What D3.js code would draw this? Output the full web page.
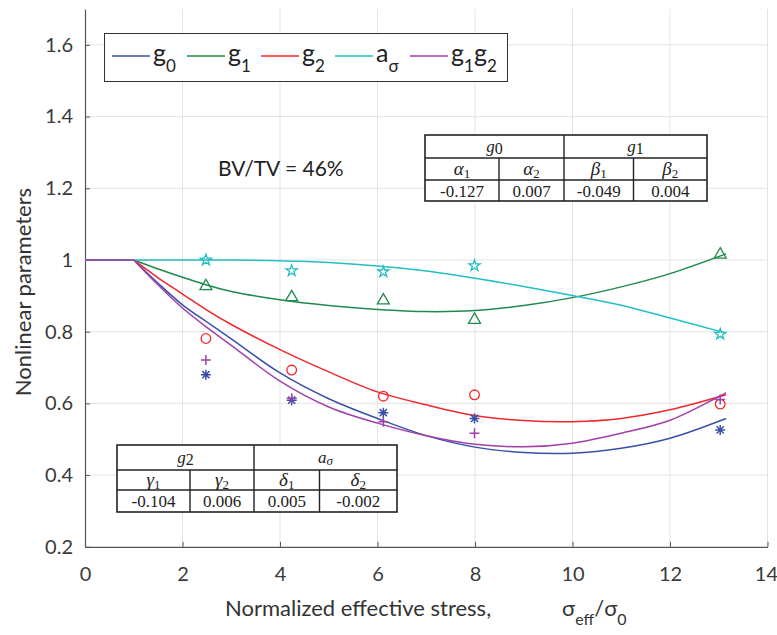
<!DOCTYPE html>
<html><head><meta charset="utf-8">
<script src="https://cdn.jsdelivr.net/npm/d3@7"></script>
<style>body{margin:0;background:#fff;} svg{display:block;}</style>
</head><body><svg id="chart" width="777" height="635"></svg>
<script>
// ---------------- data ----------------
const xTicks = [0, 2, 4, 6, 8, 10, 12, 14];
const yTicks = [0.2, 0.4, 0.6, 0.8, 1.0, 1.2, 1.4, 1.6];

// measured points
const stressPts = [2.48, 4.24, 6.12, 7.99, 13.03];
const g0Pts   = [0.680, 0.609, 0.574, 0.558, 0.526];
const g1Pts   = [0.927, 0.896, 0.887, 0.833, 1.015];
const g2Pts   = [0.781, 0.693, 0.620, 0.624, 0.598];
const aSigPts = [1.000, 0.970, 0.967, 0.984, 0.793];
const g1g2Pts = [0.721, 0.614, 0.549, 0.517, 0.611];

// fitted curves
const fitX    = [0, 1, 1.5, 2, 2.5, 3, 4, 5, 6, 7, 8, 9, 10, 11, 12, 13.15];
const g0Fit   = [1, 1, 0.935, 0.875, 0.827, 0.780, 0.685, 0.613, 0.558, 0.510, 0.478, 0.463, 0.461, 0.475, 0.503, 0.558];
const g1Fit   = [1, 1, 0.975, 0.952, 0.930, 0.912, 0.889, 0.873, 0.862, 0.856, 0.859, 0.873, 0.895, 0.925, 0.962, 1.017];
const g2Fit   = [1, 1, 0.950, 0.905, 0.860, 0.820, 0.750, 0.688, 0.632, 0.596, 0.566, 0.552, 0.549, 0.558, 0.582, 0.624];
const aSigFit = [1, 1, 1.000, 1.000, 1.000, 1.000, 0.998, 0.993, 0.983, 0.969, 0.949, 0.926, 0.901, 0.874, 0.838, 0.796];
const g1g2Fit = [1, 1, 0.930, 0.866, 0.812, 0.762, 0.662, 0.590, 0.545, 0.510, 0.486, 0.479, 0.489, 0.517, 0.553, 0.630];

const legendMain = ["g", "g", "g", "a", "g"];
const legendSub  = ["0", "1", "2", "σ", "1"];
const legendTail = ["", "", "", "", "g"];
const legendTailSub = ["", "", "", "", "2"];

const table1Groups = [["g", "0"], ["g", "1"]];
const table1Params = [["α", "1"], ["α", "2"], ["β", "1"], ["β", "2"]];
const table1Values = ["-0.127", "0.007", "-0.049", "0.004"];
const table2Groups = [["g", "2"], ["a", "σ"]];
const table2Params = [["γ", "1"], ["γ", "2"], ["δ", "1"], ["δ", "2"]];
const table2Values = ["-0.104", "0.006", "0.005", "-0.002"];

const annotation = "BV/TV = 46%";

// ---------------- chart ----------------
const svg = d3.select("#chart");
const FONT = "Lato, 'Open Sans', sans-serif";
const colors = {g0: "#3a50a8", g1: "#1f8a4c", g2: "#f0282c", aSig: "#22bfc3", g1g2: "#a040a8"};

const x = d3.scaleLinear().domain([0, 14]).range([85, 767.5]);
const y = d3.scaleLinear().domain([0.2, 1.7]).range([546.8, 9]);

// grid
const grid = svg.append("g");
grid.selectAll("line.v").data(xTicks.slice(1)).join("line")
  .attr("x1", d => x(d)).attr("x2", d => x(d))
  .attr("y1", y(0.2)).attr("y2", y(1.7))
  .attr("stroke", "#e3e3e3").attr("stroke-width", 1);
grid.selectAll("line.h").data(yTicks.slice(1)).join("line")
  .attr("x1", x(0)).attr("x2", x(14))
  .attr("y1", d => y(d)).attr("y2", d => y(d))
  .attr("stroke", "#e3e3e3").attr("stroke-width", 1);

// axes
const fmt = d => String(+d.toFixed(1));
const xAxis = svg.append("g").attr("transform", `translate(0,${y(0.2)})`)
  .call(d3.axisBottom(x).tickValues(xTicks).tickFormat(fmt).tickSizeInner(-5).tickSizeOuter(0).tickPadding(16));
const yAxis = svg.append("g").attr("transform", `translate(${x(0)},0)`)
  .call(d3.axisLeft(y).tickValues(yTicks).tickFormat(fmt).tickSizeInner(-5).tickSizeOuter(0).tickPadding(12));
[xAxis, yAxis].forEach(a => {
  a.select(".domain").attr("stroke", "#555").attr("stroke-width", 1.2);
  a.selectAll(".tick line").attr("stroke", "#555");
  a.selectAll(".tick text").attr("fill", "#3a3a3a").style("font-family", FONT).style("font-size", "20px");
});
xAxis.selectAll(".tick text").attr("dy", "0.9em")
  .filter(d => d === 14).attr("text-anchor", "end").attr("dx", 10);

// curves: flat segment up to x=1, then smooth fit
const line = d3.line().x(d => x(d[0])).y(d => y(d[1])).curve(d3.curveCatmullRom.alpha(0.5));
const fits = [[g0Fit, colors.g0], [g1Fit, colors.g1], [g2Fit, colors.g2], [aSigFit, colors.aSig], [g1g2Fit, colors.g1g2]];
fits.forEach(([vals, c]) => {
  const p = fitX.map((xv, i) => [xv, vals[i]]);
  svg.append("path").datum(p.slice(0, 2))
    .attr("d", d3.line().x(d => x(d[0])).y(d => y(d[1]))).attr("fill", "none").attr("stroke", c).attr("stroke-width", 1.5);
  svg.append("path").datum(p.slice(1))
    .attr("d", line).attr("fill", "none").attr("stroke", c).attr("stroke-width", 1.5);
});

// markers
const mk = svg.append("g").attr("fill", "none").attr("stroke-width", 1.3);
function pts(vals) { return stressPts.map((xv, i) => [xv, vals[i]]); }
mk.selectAll("path.star").data(pts(aSigPts)).join("path")
  .attr("transform", d => `translate(${x(d[0])},${y(d[1])})`)
  .attr("d", d3.symbol(d3.symbolStar, 38)).attr("stroke", colors.aSig);
mk.selectAll("path.tri").data(pts(g1Pts)).join("path")
  .attr("transform", d => `translate(${x(d[0])},${y(d[1])})`)
  .attr("d", d3.symbol(d3.symbolTriangle, 62)).attr("stroke", colors.g1);
mk.selectAll("circle").data(pts(g2Pts)).join("circle")
  .attr("cx", d => x(d[0])).attr("cy", d => y(d[1])).attr("r", 4.8).attr("stroke", colors.g2);
const ast = "M-5,0H5M0,-5V5M-3.6,-3.6L3.6,3.6M-3.6,3.6L3.6,-3.6";
mk.selectAll("path.ast").data(pts(g0Pts)).join("path")
  .attr("transform", d => `translate(${x(d[0])},${y(d[1])})`)
  .attr("d", ast).attr("stroke", colors.g0).attr("stroke-width", 1.5);
const plus = "M-5,0H5M0,-5V5";
mk.selectAll("path.plus").data(pts(g1g2Pts)).join("path")
  .attr("transform", d => `translate(${x(d[0])},${y(d[1])})`)
  .attr("d", plus).attr("stroke", colors.g1g2).attr("stroke-width", 1.5);

// legend
const lg = svg.append("g");
lg.append("rect").attr("x", 104.5).attr("y", 33.5).attr("width", 403).attr("height", 48)
  .attr("fill", "#fff").attr("stroke", "#333").attr("stroke-width", 1);
const legendStarts = [112, 187, 261, 335, 410];
const legendColors = [colors.g0, colors.g1, colors.g2, colors.aSig, colors.g1g2];
legendStarts.forEach((sx, i) => {
  lg.append("line").attr("x1", sx).attr("x2", sx + 38).attr("y1", 56).attr("y2", 56)
    .attr("stroke", legendColors[i]).attr("stroke-width", 1.5);
  const t = lg.append("text").attr("x", sx + 41).attr("y", 62)
    .style("font-family", FONT).style("font-size", "25px").attr("fill", "#222");
  t.append("tspan").text(legendMain[i]);
  t.append("tspan").attr("dy", 10).style("font-size", "17px").text(legendSub[i]);
  if (legendTail[i]) {
    t.append("tspan").attr("dy", -10).text(legendTail[i]);
    t.append("tspan").attr("dy", 10).style("font-size", "17px").text(legendTailSub[i]);
  }
});

// annotation
svg.append("text").attr("x", 218).attr("y", 176).text(annotation)
  .style("font-family", FONT).style("font-size", "21px").attr("fill", "#222");

// tables
function drawTable(x0, x1, xm, xs1, xs2, y0, yr1, yr2, y1, groups, params, values) {
  const g = svg.append("g");
  g.append("rect").attr("x", x0).attr("y", y0).attr("width", x1 - x0).attr("height", y1 - y0)
    .attr("fill", "#fff").attr("stroke", "#222").attr("stroke-width", 1.6);
  const ln = (a, b, c, d) => g.append("line").attr("x1", a).attr("y1", b).attr("x2", c).attr("y2", d)
    .attr("stroke", "#222").attr("stroke-width", 1.4);
  ln(x0, yr1, x1, yr1); ln(x0, yr2, x1, yr2);
  ln(xm, y0, xm, y1); ln(xs1, yr1, xs1, y1); ln(xs2, yr1, xs2, y1);
  const serif = "'Liberation Serif', 'Times New Roman', serif";
  const gc = [(x0 + xm) / 2, (xm + x1) / 2];
  groups.forEach((gr, i) => {
    const t = g.append("text").attr("x", gc[i]).attr("y", (y0 + yr1) / 2 + 5).attr("text-anchor", "middle")
      .style("font-family", serif).style("font-size", "17px").attr("fill", "#222");
    t.append("tspan").style("font-style", "italic").text(gr[0]);
    t.append("tspan").attr("dy", 2).style("font-size", gr[1] === "σ" ? "13px" : "16px")
      .style("font-style", gr[1] === "σ" ? "italic" : "normal").text(gr[1]);
  });
  const cc = [(x0 + xs1) / 2, (xs1 + xm) / 2, (xm + xs2) / 2, (xs2 + x1) / 2];
  params.forEach((p, i) => {
    const t = g.append("text").attr("x", cc[i]).attr("y", (yr1 + yr2) / 2 + 6).attr("text-anchor", "middle")
      .style("font-family", serif).style("font-size", "19px").attr("fill", "#222");
    t.append("tspan").style("font-style", "italic").text(p[0]);
    t.append("tspan").attr("dy", 3).style("font-size", "13px").text(p[1]);
  });
  values.forEach((v, i) => {
    g.append("text").attr("x", cc[i]).attr("y", (yr2 + y1) / 2 + 6).attr("text-anchor", "middle")
      .style("font-family", serif).style("font-size", "17px").attr("fill", "#222").text(v);
  });
}
drawTable(425, 707, 564, 499, 633.5, 135, 158, 180, 201, table1Groups, table1Params, table1Values);
drawTable(117, 397, 254, 190, 319.5, 445, 470, 490, 512, table2Groups, table2Params, table2Values);

// axis labels
svg.append("text").attr("transform", "translate(31,292) rotate(-90)").attr("text-anchor", "middle")
  .style("font-family", FONT).style("font-size", "22px").attr("fill", "#333").text("Nonlinear parameters");
const xl = svg.append("text").attr("x", 225).attr("y", 616)
  .style("font-family", FONT).style("font-size", "22px").attr("fill", "#333");
xl.append("tspan").text("Normalized effective stress,");
xl.append("tspan").attr("x", 562).text("σ");
xl.append("tspan").attr("dy", 9).style("font-size", "16px").text("eff");
xl.append("tspan").attr("dy", -9).text("/σ");
xl.append("tspan").attr("dy", 9).style("font-size", "16px").text("0");
</script>
</body></html>
